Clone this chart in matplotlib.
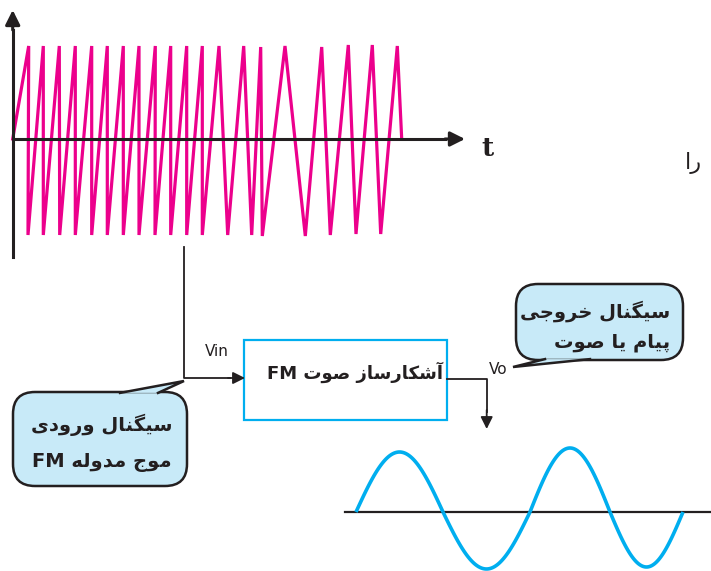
import re

import matplotlib
matplotlib.use("Agg")
import matplotlib.pyplot as plt
import numpy as np
from matplotlib.patches import FancyBboxPatch, Polygon, Rectangle

# =============================================================================
# DATA (pixel coordinates of the original drawing, y grows downward)
# =============================================================================
# FM waveform vertices (sawtooth-like, frequency drops toward the right)
FM_X = [12.7, 28.7, 28.0, 43.3, 43.3, 59.3, 59.7, 75.3, 75.3, 91.7, 91.7,
        107.3, 107.3, 123.3, 123.3, 139.0, 139.0, 155.3, 155.0, 170.7, 170.7,
        186.7, 186.7, 202.3, 202.3, 219.0, 227.7, 243.7, 251.7, 260.7, 262.3,
        285.0, 305.3, 321.7, 330.3, 348.3, 356.0, 372.3, 380.7, 397.3, 401.7]
FM_Y = [139, 46, 235, 46, 235, 46, 235, 46, 235, 46, 235,
        46, 235, 46, 235, 46, 235, 46, 235, 46, 235,
        46, 235, 46, 235, 46, 235, 46, 235, 47, 236,
        46, 236, 47, 235, 45, 234, 45, 234, 46, 139]

# demodulated output: zero crossings and half-cycle peaks
SINE_ZEROS = [356, 443, 530, 610, 683]
SINE_PEAKS = [60, -57, 64, -55]
SINE_AXIS_Y = 512

# labels (logical order, Persian)
LBL_T = "t"
LBL_RA = "را"
LBL_VIN = "Vin"
LBL_VO = "Vo"
LBL_BOX = "آشکارساز صوت FM"
LBL_IN = ["سیگنال ورودی", "موج مدوله FM"]
LBL_OUT = ["سیگنال خروجی", "پیام یا صوت"]

MAGENTA = "#ec008c"
BLUE = "#00aeef"
DARK = "#231f20"
BUBBLE = "#c8eaf8"

# =============================================================================
# minimal Persian shaping (matplotlib has no complex text layout)
# =============================================================================
FORMS = {
    "\u0622": ("\uFE81", "\uFE82", None, None),
    "\u0627": ("\uFE8D", "\uFE8E", None, None),
    "\u067E": ("\uFB56", "\uFB57", "\uFB58", "\uFB59"),
    "\u062A": ("\uFE95", "\uFE96", "\uFE97", "\uFE98"),
    "\u062C": ("\uFE9D", "\uFE9E", "\uFE9F", "\uFEA0"),
    "\u062E": ("\uFEA5", "\uFEA6", "\uFEA7", "\uFEA8"),
    "\u062F": ("\uFEA9", "\uFEAA", None, None),
    "\u0631": ("\uFEAD", "\uFEAE", None, None),
    "\u0632": ("\uFEAF", "\uFEB0", None, None),
    "\u0633": ("\uFEB1", "\uFEB2", "\uFEB3", "\uFEB4"),
    "\u0634": ("\uFEB5", "\uFEB6", "\uFEB7", "\uFEB8"),
    "\u0635": ("\uFEB9", "\uFEBA", "\uFEBB", "\uFEBC"),
    "\u0644": ("\uFEDD", "\uFEDE", "\uFEDF", "\uFEE0"),
    "\u0645": ("\uFEE1", "\uFEE2", "\uFEE3", "\uFEE4"),
    "\u0646": ("\uFEE5", "\uFEE6", "\uFEE7", "\uFEE8"),
    "\u0647": ("\uFEE9", "\uFEEA", "\uFEEB", "\uFEEC"),
    "\u0648": ("\uFEED", "\uFEEE", None, None),
    "\u06A9": ("\uFB8E", "\uFB8F", "\uFB90", "\uFB91"),
    "\u06AF": ("\uFB92", "\uFB93", "\uFB94", "\uFB95"),
    "\u06CC": ("\uFBFC", "\uFBFD", "\uFBFE", "\uFBFF"),
}


def fa(text):
    out = []
    for i, ch in enumerate(text):
        if ch not in FORMS:
            out.append(ch)
            continue
        prev = text[i - 1] if i > 0 else ""
        nxt = text[i + 1] if i + 1 < len(text) else ""
        join_prev = prev in FORMS and FORMS[prev][2] is not None
        dual = FORMS[ch][2] is not None
        join_next = dual and nxt in FORMS
        iso, fin, ini, med = FORMS[ch]
        if join_prev and join_next:
            out.append(med)
        elif join_prev:
            out.append(fin)
        elif join_next:
            out.append(ini)
        else:
            out.append(iso)
    vis = "".join(out)[::-1]
    return re.sub(r"[A-Za-z0-9]+", lambda m: m.group(0)[::-1], vis)


def bubble(ax, x0, y0, x1, y1, tail):
    box = FancyBboxPatch((x0, y0), x1 - x0, y1 - y0,
                         boxstyle="round,pad=0,rounding_size=22",
                         fc=BUBBLE, ec=DARK, lw=1.8, zorder=3)
    ax.add_patch(box)
    ax.add_patch(Polygon(tail, closed=True, fc=BUBBLE, ec="none", zorder=4))
    tx, ty = zip(*tail)
    ax.plot(tx, ty, color=DARK, lw=1.8, zorder=5, solid_joinstyle="miter")


def arrow(ax, start, tip, size, lw, color=DARK):
    ax.annotate("", xy=tip, xytext=start,
                arrowprops=dict(arrowstyle="-|>", mutation_scale=size,
                                lw=lw, color=color, shrinkA=0, shrinkB=0))


# =============================================================================
# DRAW
# =============================================================================
fig = plt.figure(figsize=(7.11, 5.71), dpi=100)
ax = fig.add_axes([0, 0, 1, 1])
ax.set_xlim(0, 711)
ax.set_ylim(571, 0)
ax.axis("off")

fa_font = dict(family=["DejaVu Sans"], fontweight="bold", color=DARK)

# FM input signal with axes
ax.plot(FM_X, FM_Y, color=MAGENTA, lw=2.3, solid_joinstyle="miter", zorder=2)
ax.plot([12.7, 12.7], [257, 30], color=DARK, lw=2.2, zorder=3)
arrow(ax, (12.7, 30), (12.7, 10), 22, 2.2)
ax.plot([12.7, 445], [139, 139], color=DARK, lw=2.2, zorder=3)
arrow(ax, (445, 139), (465, 139), 22, 2.2)
ax.text(487, 148, LBL_T, family="DejaVu Serif", fontweight="bold",
        fontsize=19, ha="center", va="center", color=DARK)
ax.text(693, 163, fa(LBL_RA), fontsize=16, ha="center", va="center",
        family=["DejaVu Sans"], color=DARK)

# input connector
ax.plot([184, 184, 230], [247, 378, 378], color=DARK, lw=1.3)
arrow(ax, (228, 378), (245, 378), 18, 1.3)
ax.text(217, 351, LBL_VIN, fontsize=11, ha="center", va="center", color=DARK)

# detector block
ax.add_patch(Rectangle((244, 340), 203, 80, fill=False, ec=BLUE, lw=1.6))
ax.text(355, 372, fa(LBL_BOX), fontsize=13, ha="center", va="center", **fa_font)

# output connector
ax.plot([447, 486.7, 486.7], [379.3, 379.3, 412], color=DARK, lw=1.3)
arrow(ax, (486.7, 410), (486.7, 429), 18, 1.3)
ax.text(498, 370, LBL_VO, fontsize=11, ha="center", va="center", color=DARK)

# speech bubbles
bubble(ax, 13, 392, 187, 486, [(120, 392.9), (184, 381), (158, 392.9)])
ax.text(102, 425, fa(LBL_IN[0]), fontsize=14, ha="center", va="center", **fa_font)
ax.text(102, 462, fa(LBL_IN[1]), fontsize=14, ha="center", va="center", **fa_font)

bubble(ax, 516, 284, 683, 360, [(545, 359.1), (513, 367), (590, 359.1)])
ax.text(670, 311, fa(LBL_OUT[0]), fontsize=14, ha="right", va="center", **fa_font)
ax.text(670, 343, fa(LBL_OUT[1]), fontsize=14, ha="right", va="center", **fa_font)

# demodulated audio output
ax.plot([345, 711], [SINE_AXIS_Y, SINE_AXIS_Y], color=DARK, lw=1.6, zorder=2)
for i, amp in enumerate(SINE_PEAKS):
    xs = np.linspace(SINE_ZEROS[i], SINE_ZEROS[i + 1], 60)
    ys = SINE_AXIS_Y - amp * np.sin(np.pi * (xs - xs[0]) / (xs[-1] - xs[0]))
    ax.plot(xs, ys, color=BLUE, lw=2.6, solid_capstyle="butt", zorder=3)

fig.savefig("out.png", dpi=100)
